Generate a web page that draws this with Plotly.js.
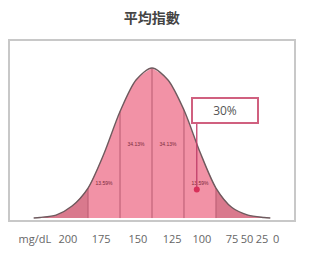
<!DOCTYPE html>
<html>
<head>
<meta charset="utf-8">
<script src="https://cdn.plot.ly/plotly-3.0.1.min.js"></script>
<style>html,body{margin:0;padding:0;background:#fff;}#chart{width:316px;height:256px;}</style>
</head>
<body>
<div id="chart"></div>
<script>
// curve: position in standard deviations, relative height
const curveX = [-3.7, -3.5, -3, -2.5, -2, -1.5, -1, -0.5, 0, 0.5, 1, 1.5, 2, 2.5, 3, 3.5, 3.7];
const curveY = [0, 0.004, 0.02, 0.08, 0.2, 0.43, 0.71, 0.92, 1, 0.92, 0.72, 0.44, 0.2, 0.07, 0.02, 0.004, 0];
const bounds = [-2, -1, 0, 1, 2];
const segLabels = ['13.59%', '34.13%', '34.13%', '13.59%'];
const segLabelX = [-1.5, -0.5, 0.5, 1.5];
const segLabelY = [0.23, 0.49, 0.49, 0.23];
const tickVals = [-3.66, -2.63, -1.59, -0.44, 0.63, 1.56, 2.5, 2.97, 3.44, 3.88];
const tickText = ['mg/dL', '200', '175', '150', '125', '100', '75', '50', '25', '0'];
const markerX = [1.4];
const markerY = [0.19];
const calloutText = '30%';
const calloutX = 2.27;
const calloutY = 0.72;
const calloutBottom = 0.64;

function seg(lo, hi) {
  const xs = [], ys = [];
  curveX.forEach((x, i) => { if (x >= lo - 1e-9 && x <= hi + 1e-9) { xs.push(x); ys.push(curveY[i]); } });
  return {x: xs, y: ys};
}
function hAt(b) { return curveY[curveX.indexOf(b)]; }

const traces = [];
const edges = [-Infinity].concat(bounds).concat([Infinity]);
for (let i = 0; i < edges.length - 1; i++) {
  const s = seg(edges[i], edges[i + 1]);
  const tail = (i === 0 || i === edges.length - 2);
  traces.push({x: s.x, y: s.y, type: 'scatter', mode: 'lines', line: {width: 0, shape: 'spline', smoothing: 0.8},
    fill: 'tozeroy', fillcolor: tail ? '#d9798d' : '#f292a6', hoverinfo: 'skip', showlegend: false});
}
bounds.forEach(b => {
  traces.push({x: [b, b], y: [0, hAt(b)], type: 'scatter', mode: 'lines', line: {color: '#b85a70', width: 1}, hoverinfo: 'skip', showlegend: false});
});
traces.push({x: curveX, y: curveY, type: 'scatter', mode: 'lines', line: {color: '#6e5a5e', width: 1.4, shape: 'spline', smoothing: 0.8}, hoverinfo: 'skip', showlegend: false});
traces.push({x: segLabelX, y: segLabelY, type: 'scatter', mode: 'text', text: segLabels, textfont: {size: 5, color: '#7a2a3a', family: 'Liberation Sans'}, hoverinfo: 'skip', showlegend: false});
traces.push({x: [markerX[0], markerX[0]], y: [markerY[0], calloutBottom], type: 'scatter', mode: 'lines', line: {color: '#c0406a', width: 1.3}, hoverinfo: 'skip', showlegend: false});
traces.push({x: markerX, y: markerY, type: 'scatter', mode: 'markers', marker: {color: '#d8305a', size: 6}, hoverinfo: 'skip', showlegend: false});

const layout = {
  width: 316, height: 256,
  margin: {l: 10, r: 22, t: 41, b: 36},
  paper_bgcolor: '#fff', plot_bgcolor: '#fff',
  title: {text: '平均指數', font: {family: 'Noto Sans CJK TC', size: 14, color: '#444', weight: 'bold'}, xref: 'container', yref: 'container', x: 0.48, y: 0.93, xanchor: 'center', yanchor: 'middle'},
  xaxis: {range: [-4.44, 4.44], showgrid: false, zeroline: false, showline: true, mirror: 'all', linecolor: '#c8c8c8', linewidth: 2,
    tickmode: 'array', tickvals: tickVals, ticktext: tickText, ticks: '', ticklabelstandoff: 8,
    tickfont: {family: 'Open Sans', size: 11, color: '#666'}},
  yaxis: {range: [-0.013, 1.18], showgrid: false, zeroline: false, showline: true, mirror: 'all', linecolor: '#c8c8c8', linewidth: 2, showticklabels: false, ticks: ''},
  annotations: [{x: calloutX, y: calloutY, xref: 'x', yref: 'y', text: calloutText, showarrow: false,
    font: {family: 'Open Sans', size: 12, color: '#555'}, bgcolor: '#fff', bordercolor: '#d0607f', borderwidth: 2, borderpad: 3, width: 58, height: 17}]
};
Plotly.newPlot('chart', traces, layout, {staticPlot: true, displayModeBar: false});
</script>
</body>
</html>
